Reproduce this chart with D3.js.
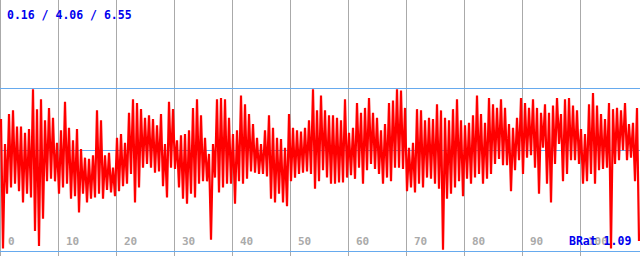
<!DOCTYPE html>
<html>
<head>
<meta charset="utf-8">
<script src="https://cdn.jsdelivr.net/npm/d3@7"></script>
<style>
  html, body { margin: 0; padding: 0; background: #fff; }
  svg { display: block; }
</style>
</head>
<body>
<div id="plot"></div>
<script>

// data: upper / lower value of each 4px bucket

  var hi = [5.3,4.3,5.5,5.65,5.0,5.0,4.75,4.9,6.5,5.7,6.1,5.25,5.75,5.35,4.35,4.85,6.0,4.95,4.45,4.9,
            4.1,3.75,3.7,3.85,5.65,5.25,3.85,3.95,3.35,4.55,4.7,4.35,5.55,6.1,5.95,5.7,5.35,5.45,5.3,5.05,
            5.5,4.3,6.0,5.7,4.45,4.65,4.7,4.85,5.75,6.1,5.45,4.55,3.9,4.3,6.1,6.15,6.1,5.35,4.7,4.85,
            6.25,5.9,5.5,5.1,4.55,4.3,4.85,5.45,4.95,4.55,4.5,4.15,5.5,4.95,4.85,4.8,4.95,5.25,6.5,5.65,
            6.25,5.65,5.45,5.45,5.35,5.25,6.1,4.75,4.95,5.95,5.55,5.75,6.15,5.55,5.35,4.85,5.1,5.95,6.05,6.5,
            6.45,5.75,4.15,4.35,5.7,5.65,5.25,5.35,5.3,5.9,5.65,5.35,5.25,5.7,6.1,5.25,5.05,5.15,5.45,6.25,
            5.5,5.15,6.15,5.9,5.75,6.1,5.75,5.1,4.95,5.35,6.15,5.95,5.75,6.1,5.75,5.55,5.9,5.55,5.85,6.15,
            5.5,6.1,6.15,5.85,5.65,4.9,4.7,5.9,6.35,5.85,5.5,5.3,5.95,5.7,5.75,5.65,5.95,5.1,5.15,5.75];

  var lo = [0.1,2.3,2.55,2.7,2.4,1.95,2.3,2.15,0.8,0.2,1.3,2.8,2.9,2.8,2.3,2.55,2.7,2.1,2.2,1.55,
            2.3,1.95,2.1,2.15,2.3,2.1,2.45,2.35,2.2,2.4,2.6,2.7,3.1,1.95,2.55,3.35,3.5,3.35,3.15,3.2,
            2.6,2.15,3.35,3.3,2.55,2.1,1.9,2.3,2.15,2.7,2.8,2.8,0.45,2.95,2.35,2.55,2.7,2.7,1.9,2.8,
            2.7,2.9,3.2,3.15,3.1,3.1,3.0,2.1,1.95,2.3,1.95,1.8,2.8,2.95,3.1,3.15,3.2,3.1,2.5,2.8,
            3.25,2.95,2.7,2.7,2.75,2.75,2.95,3.05,2.9,3.35,2.7,3.25,3.5,3.3,3.1,2.7,2.95,2.8,3.35,3.35,
            3.3,2.4,2.55,2.35,2.7,2.55,2.95,2.9,2.7,2.5,0.05,2.1,2.3,2.55,2.8,2.2,2.9,2.7,2.95,3.1,
            2.7,2.9,3.1,3.5,3.7,3.45,3.45,2.4,3.25,3.65,3.1,3.75,3.85,3.35,2.3,4.15,2.7,1.95,3.5,4.3,
            2.8,3.1,3.65,3.65,3.5,2.7,2.8,3.1,2.7,3.25,3.3,3.35,0.1,3.5,3.65,4.05,3.65,3.75,2.8,0.4];

  var stats = [0.16, 4.06, 6.55];          // min / mean / max
  var xTicks = [0, 10, 20, 30, 40, 50, 60, 70, 80, 90, 100];
  var bRat = 1.09;

  var w = 640;
  var h = 256;

  var xScale = d3.scaleLinear()
      .domain([0, 110.34])
      .range([0, w]);

  var yScale = d3.scaleLinear()
      .domain([0, stats[2]])
      .range([251, 88]);

  // zigzag series: upper then lower point of every bucket
  var series = [];
  hi.forEach((d, i) => { series.push(d); series.push(lo[i]); });

  var iScale = d3.scaleLinear()
      .domain([0, series.length - 1])
      .range([1, w - 1]);

  var svg = d3.select("div#plot")
    .append("svg")
      .attr("width", w)
      .attr("height", h);

  svg.append("rect")
      .attr("width", w)
      .attr("height", h)
      .attr("fill", "#fff");

// vertical grid

  svg.append("g")
    .selectAll("line")
      .data(xTicks)
    .enter().append("line")
      .attr("x1", d => Math.round(xScale(d)) + 0.5)
      .attr("x2", d => Math.round(xScale(d)) + 0.5)
      .attr("y1", 0)
      .attr("y2", h)
      .attr("stroke", "#aaaaaa")
      .attr("stroke-width", 1);

// horizontal lines at 0, mean and max

  svg.append("g")
    .selectAll("line")
      .data([0, stats[1], stats[2]])
    .enter().append("line")
      .attr("x1", 0)
      .attr("x2", w)
      .attr("y1", d => Math.round(yScale(d)) + 0.5)
      .attr("y2", d => Math.round(yScale(d)) + 0.5)
      .attr("stroke", "#66aaee")
      .attr("stroke-width", 1);

// tick labels

  svg.append("g")
    .selectAll("text")
      .data(xTicks)
    .enter().append("text")
      .attr("x", d => Math.round(xScale(d)) + 8)
      .attr("y", 245)
      .attr("fill", "#aaaaaa")
      .style("font", "bold 11px 'DejaVu Sans Mono', monospace")
      .text(d => d);

// texts

  svg.append("text")
      .attr("x", 7)
      .attr("y", 19)
      .attr("fill", "#0000ee")
      .style("font", "bold 11.5px 'DejaVu Sans Mono', monospace")
      .text(stats.map(d => d.toFixed(2)).join(" / "));

  svg.append("text")
      .attr("x", 569)
      .attr("y", 245)
      .attr("fill", "#0000ee")
      .style("font", "bold 11.5px 'DejaVu Sans Mono', monospace")
      .text("BRat " + bRat.toFixed(2));

// data line

  var line = d3.line()
      .x((d, i) => iScale(i))
      .y(d => yScale(d));

  svg.append("path")
      .datum(series)
      .attr("d", line)
      .attr("fill", "none")
      .attr("stroke", "#ff0000")
      .attr("stroke-width", 2.2)
      .attr("stroke-linejoin", "bevel");

</script>
</body>
</html>
